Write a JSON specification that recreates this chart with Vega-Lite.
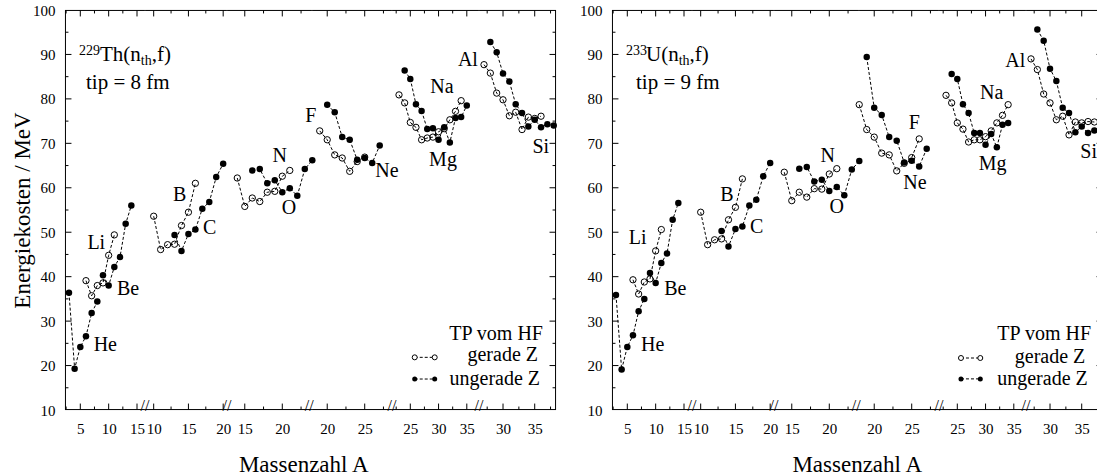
{
"$schema":"https://vega.github.io/schema/vega-lite/v6.json",
"padding":{"left":11,"top":3,"right":0,"bottom":0},
"config":{"view":{"stroke":null},"font":"Liberation Serif",
 "axis":{"labelFont":"Liberation Serif","labelFontSize":15,"labelColor":"black","grid":false,"domain":false,"ticks":false,"tickSize":0,"labelOverlap":false,"labelFlush":false,"labelBound":false,"titleFont":"Liberation Serif","titleFontWeight":"normal","titleColor":"black","titleFontSize":23},
 "point":{"opacity":1},
 "text":{"font":"Liberation Serif","color":"black"}},
"datasets":{
"pts":[
{"p":"L","el":"He","g":"ungerade Z","A":3,"E":36.4},{"p":"L","el":"He","g":"ungerade Z","A":4,"E":19.3},{"p":"L","el":"He","g":"ungerade Z","A":5,"E":24.2},{"p":"L","el":"He","g":"ungerade Z","A":6,"E":26.6},{"p":"L","el":"He","g":"ungerade Z","A":7,"E":31.8},{"p":"L","el":"He","g":"ungerade Z","A":8,"E":34.4},
{"p":"L","el":"Li","g":"gerade Z","A":6,"E":39.1},{"p":"L","el":"Li","g":"gerade Z","A":7,"E":35.7},{"p":"L","el":"Li","g":"gerade Z","A":8,"E":38.0},{"p":"L","el":"Li","g":"gerade Z","A":9,"E":38.6},{"p":"L","el":"Li","g":"gerade Z","A":10,"E":44.8},{"p":"L","el":"Li","g":"gerade Z","A":11,"E":49.4},
{"p":"L","el":"Be","g":"ungerade Z","A":9,"E":40.3},{"p":"L","el":"Be","g":"ungerade Z","A":10,"E":38.0},{"p":"L","el":"Be","g":"ungerade Z","A":11,"E":42.2},{"p":"L","el":"Be","g":"ungerade Z","A":12,"E":44.4},{"p":"L","el":"Be","g":"ungerade Z","A":13,"E":51.9},{"p":"L","el":"Be","g":"ungerade Z","A":14,"E":56.0},
{"p":"L","el":"B","g":"gerade Z","A":10,"E":53.6},{"p":"L","el":"B","g":"gerade Z","A":11,"E":46.1},{"p":"L","el":"B","g":"gerade Z","A":12,"E":47.2},{"p":"L","el":"B","g":"gerade Z","A":13,"E":47.3},{"p":"L","el":"B","g":"gerade Z","A":14,"E":51.5},{"p":"L","el":"B","g":"gerade Z","A":15,"E":54.5},{"p":"L","el":"B","g":"gerade Z","A":16,"E":61.0},
{"p":"L","el":"C","g":"ungerade Z","A":13,"E":49.4},{"p":"L","el":"C","g":"ungerade Z","A":14,"E":45.8},{"p":"L","el":"C","g":"ungerade Z","A":15,"E":49.6},{"p":"L","el":"C","g":"ungerade Z","A":16,"E":50.6},{"p":"L","el":"C","g":"ungerade Z","A":17,"E":55.3},{"p":"L","el":"C","g":"ungerade Z","A":18,"E":56.8},{"p":"L","el":"C","g":"ungerade Z","A":19,"E":62.4},{"p":"L","el":"C","g":"ungerade Z","A":20,"E":65.4},
{"p":"L","el":"N","g":"gerade Z","A":14,"E":62.2},{"p":"L","el":"N","g":"gerade Z","A":15,"E":55.8},{"p":"L","el":"N","g":"gerade Z","A":16,"E":57.7},{"p":"L","el":"N","g":"gerade Z","A":17,"E":56.9},{"p":"L","el":"N","g":"gerade Z","A":18,"E":59.0},{"p":"L","el":"N","g":"gerade Z","A":19,"E":59.2},{"p":"L","el":"N","g":"gerade Z","A":20,"E":62.6},{"p":"L","el":"N","g":"gerade Z","A":21,"E":63.9},
{"p":"L","el":"O","g":"ungerade Z","A":16,"E":63.9},{"p":"L","el":"O","g":"ungerade Z","A":17,"E":64.2},{"p":"L","el":"O","g":"ungerade Z","A":18,"E":61.0},{"p":"L","el":"O","g":"ungerade Z","A":19,"E":61.7},{"p":"L","el":"O","g":"ungerade Z","A":20,"E":59.0},{"p":"L","el":"O","g":"ungerade Z","A":21,"E":59.9},{"p":"L","el":"O","g":"ungerade Z","A":22,"E":58.2},{"p":"L","el":"O","g":"ungerade Z","A":23,"E":64.2},{"p":"L","el":"O","g":"ungerade Z","A":24,"E":66.2},
{"p":"L","el":"F","g":"gerade Z","A":19,"E":72.8},{"p":"L","el":"F","g":"gerade Z","A":20,"E":70.8},{"p":"L","el":"F","g":"gerade Z","A":21,"E":67.4},{"p":"L","el":"F","g":"gerade Z","A":22,"E":66.7},{"p":"L","el":"F","g":"gerade Z","A":23,"E":63.7},{"p":"L","el":"F","g":"gerade Z","A":24,"E":65.9},{"p":"L","el":"F","g":"gerade Z","A":25,"E":66.9},
{"p":"L","el":"Ne","g":"ungerade Z","A":20,"E":78.7},{"p":"L","el":"Ne","g":"ungerade Z","A":21,"E":77.0},{"p":"L","el":"Ne","g":"ungerade Z","A":22,"E":71.4},{"p":"L","el":"Ne","g":"ungerade Z","A":23,"E":70.8},{"p":"L","el":"Ne","g":"ungerade Z","A":24,"E":66.3},{"p":"L","el":"Ne","g":"ungerade Z","A":25,"E":66.7},{"p":"L","el":"Ne","g":"ungerade Z","A":26,"E":65.6},{"p":"L","el":"Ne","g":"ungerade Z","A":27,"E":69.5},
{"p":"L","el":"Na","g":"gerade Z","A":23,"E":80.9},{"p":"L","el":"Na","g":"gerade Z","A":24,"E":79.1},{"p":"L","el":"Na","g":"gerade Z","A":25,"E":74.7},{"p":"L","el":"Na","g":"gerade Z","A":26,"E":73.6},{"p":"L","el":"Na","g":"gerade Z","A":27,"E":70.8},{"p":"L","el":"Na","g":"gerade Z","A":28,"E":71.2},{"p":"L","el":"Na","g":"gerade Z","A":29,"E":71.4},{"p":"L","el":"Na","g":"gerade Z","A":30,"E":72.6},{"p":"L","el":"Na","g":"gerade Z","A":31,"E":73.3},{"p":"L","el":"Na","g":"gerade Z","A":32,"E":75.3},{"p":"L","el":"Na","g":"gerade Z","A":33,"E":77.2},{"p":"L","el":"Na","g":"gerade Z","A":34,"E":79.6},
{"p":"L","el":"Mg","g":"ungerade Z","A":24,"E":86.4},{"p":"L","el":"Mg","g":"ungerade Z","A":25,"E":84.5},{"p":"L","el":"Mg","g":"ungerade Z","A":26,"E":78.8},{"p":"L","el":"Mg","g":"ungerade Z","A":27,"E":77.3},{"p":"L","el":"Mg","g":"ungerade Z","A":28,"E":73.2},{"p":"L","el":"Mg","g":"ungerade Z","A":29,"E":73.4},{"p":"L","el":"Mg","g":"ungerade Z","A":30,"E":70.8},{"p":"L","el":"Mg","g":"ungerade Z","A":31,"E":73.6},{"p":"L","el":"Mg","g":"ungerade Z","A":32,"E":70.2},{"p":"L","el":"Mg","g":"ungerade Z","A":33,"E":75.7},{"p":"L","el":"Mg","g":"ungerade Z","A":34,"E":75.9},{"p":"L","el":"Mg","g":"ungerade Z","A":35,"E":78.5},
{"p":"L","el":"Al","g":"gerade Z","A":27,"E":87.7},{"p":"L","el":"Al","g":"gerade Z","A":28,"E":85.8},{"p":"L","el":"Al","g":"gerade Z","A":29,"E":81.3},{"p":"L","el":"Al","g":"gerade Z","A":30,"E":79.8},{"p":"L","el":"Al","g":"gerade Z","A":31,"E":76.2},{"p":"L","el":"Al","g":"gerade Z","A":32,"E":77.0},{"p":"L","el":"Al","g":"gerade Z","A":33,"E":73.1},{"p":"L","el":"Al","g":"gerade Z","A":34,"E":75.9},{"p":"L","el":"Al","g":"gerade Z","A":35,"E":75.6},{"p":"L","el":"Al","g":"gerade Z","A":36,"E":76.1},
{"p":"L","el":"Si","g":"ungerade Z","A":28,"E":92.8},{"p":"L","el":"Si","g":"ungerade Z","A":29,"E":90.5},{"p":"L","el":"Si","g":"ungerade Z","A":30,"E":85.7},{"p":"L","el":"Si","g":"ungerade Z","A":31,"E":83.9},{"p":"L","el":"Si","g":"ungerade Z","A":32,"E":78.8},{"p":"L","el":"Si","g":"ungerade Z","A":33,"E":76.8},{"p":"L","el":"Si","g":"ungerade Z","A":34,"E":73.8},{"p":"L","el":"Si","g":"ungerade Z","A":35,"E":75.3},{"p":"L","el":"Si","g":"ungerade Z","A":36,"E":73.6},{"p":"L","el":"Si","g":"ungerade Z","A":37,"E":74.3},{"p":"L","el":"Si","g":"ungerade Z","A":38,"E":74.0},
{"p":"R","el":"He","g":"ungerade Z","A":3,"E":35.9},{"p":"R","el":"He","g":"ungerade Z","A":4,"E":19.1},{"p":"R","el":"He","g":"ungerade Z","A":5,"E":24.2},{"p":"R","el":"He","g":"ungerade Z","A":6,"E":26.8},{"p":"R","el":"He","g":"ungerade Z","A":7,"E":32.2},{"p":"R","el":"He","g":"ungerade Z","A":8,"E":35.0},
{"p":"R","el":"Li","g":"gerade Z","A":6,"E":39.3},{"p":"R","el":"Li","g":"gerade Z","A":7,"E":36.1},{"p":"R","el":"Li","g":"gerade Z","A":8,"E":38.8},{"p":"R","el":"Li","g":"gerade Z","A":9,"E":39.5},{"p":"R","el":"Li","g":"gerade Z","A":10,"E":45.8},{"p":"R","el":"Li","g":"gerade Z","A":11,"E":50.6},
{"p":"R","el":"Be","g":"ungerade Z","A":9,"E":40.8},{"p":"R","el":"Be","g":"ungerade Z","A":10,"E":38.6},{"p":"R","el":"Be","g":"ungerade Z","A":11,"E":43.1},{"p":"R","el":"Be","g":"ungerade Z","A":12,"E":45.2},{"p":"R","el":"Be","g":"ungerade Z","A":13,"E":52.8},{"p":"R","el":"Be","g":"ungerade Z","A":14,"E":56.6},
{"p":"R","el":"B","g":"gerade Z","A":10,"E":54.5},{"p":"R","el":"B","g":"gerade Z","A":11,"E":47.2},{"p":"R","el":"B","g":"gerade Z","A":12,"E":48.3},{"p":"R","el":"B","g":"gerade Z","A":13,"E":48.5},{"p":"R","el":"B","g":"gerade Z","A":14,"E":52.8},{"p":"R","el":"B","g":"gerade Z","A":15,"E":55.6},{"p":"R","el":"B","g":"gerade Z","A":16,"E":62.0},
{"p":"R","el":"C","g":"ungerade Z","A":13,"E":50.3},{"p":"R","el":"C","g":"ungerade Z","A":14,"E":46.8},{"p":"R","el":"C","g":"ungerade Z","A":15,"E":50.7},{"p":"R","el":"C","g":"ungerade Z","A":16,"E":51.3},{"p":"R","el":"C","g":"ungerade Z","A":17,"E":56.0},{"p":"R","el":"C","g":"ungerade Z","A":18,"E":57.3},{"p":"R","el":"C","g":"ungerade Z","A":19,"E":62.6},{"p":"R","el":"C","g":"ungerade Z","A":20,"E":65.6},
{"p":"R","el":"N","g":"gerade Z","A":14,"E":63.5},{"p":"R","el":"N","g":"gerade Z","A":15,"E":57.1},{"p":"R","el":"N","g":"gerade Z","A":16,"E":59.0},{"p":"R","el":"N","g":"gerade Z","A":17,"E":57.9},{"p":"R","el":"N","g":"gerade Z","A":18,"E":59.8},{"p":"R","el":"N","g":"gerade Z","A":19,"E":59.7},{"p":"R","el":"N","g":"gerade Z","A":20,"E":63.1},{"p":"R","el":"N","g":"gerade Z","A":21,"E":64.3},
{"p":"R","el":"O","g":"ungerade Z","A":16,"E":64.3},{"p":"R","el":"O","g":"ungerade Z","A":17,"E":64.7},{"p":"R","el":"O","g":"ungerade Z","A":18,"E":61.4},{"p":"R","el":"O","g":"ungerade Z","A":19,"E":61.8},{"p":"R","el":"O","g":"ungerade Z","A":20,"E":59.3},{"p":"R","el":"O","g":"ungerade Z","A":21,"E":60.2},{"p":"R","el":"O","g":"ungerade Z","A":22,"E":58.3},{"p":"R","el":"O","g":"ungerade Z","A":23,"E":64.1},{"p":"R","el":"O","g":"ungerade Z","A":24,"E":66.0},
{"p":"R","el":"F","g":"gerade Z","A":18,"E":78.7},{"p":"R","el":"F","g":"gerade Z","A":19,"E":73.1},{"p":"R","el":"F","g":"gerade Z","A":20,"E":71.4},{"p":"R","el":"F","g":"gerade Z","A":21,"E":67.8},{"p":"R","el":"F","g":"gerade Z","A":22,"E":67.4},{"p":"R","el":"F","g":"gerade Z","A":23,"E":63.8},{"p":"R","el":"F","g":"gerade Z","A":24,"E":65.5},{"p":"R","el":"F","g":"gerade Z","A":25,"E":66.8},{"p":"R","el":"F","g":"gerade Z","A":26,"E":71.0},
{"p":"R","el":"Ne","g":"ungerade Z","A":19,"E":89.4},{"p":"R","el":"Ne","g":"ungerade Z","A":20,"E":78.0},{"p":"R","el":"Ne","g":"ungerade Z","A":21,"E":76.4},{"p":"R","el":"Ne","g":"ungerade Z","A":22,"E":71.4},{"p":"R","el":"Ne","g":"ungerade Z","A":23,"E":70.6},{"p":"R","el":"Ne","g":"ungerade Z","A":24,"E":65.7},{"p":"R","el":"Ne","g":"ungerade Z","A":25,"E":66.1},{"p":"R","el":"Ne","g":"ungerade Z","A":26,"E":64.8},{"p":"R","el":"Ne","g":"ungerade Z","A":27,"E":68.8},
{"p":"R","el":"Na","g":"gerade Z","A":23,"E":80.8},{"p":"R","el":"Na","g":"gerade Z","A":24,"E":79.1},{"p":"R","el":"Na","g":"gerade Z","A":25,"E":74.6},{"p":"R","el":"Na","g":"gerade Z","A":26,"E":73.2},{"p":"R","el":"Na","g":"gerade Z","A":27,"E":70.3},{"p":"R","el":"Na","g":"gerade Z","A":28,"E":70.8},{"p":"R","el":"Na","g":"gerade Z","A":29,"E":70.8},{"p":"R","el":"Na","g":"gerade Z","A":30,"E":71.5},{"p":"R","el":"Na","g":"gerade Z","A":31,"E":72.8},{"p":"R","el":"Na","g":"gerade Z","A":32,"E":74.6},{"p":"R","el":"Na","g":"gerade Z","A":33,"E":76.3},{"p":"R","el":"Na","g":"gerade Z","A":34,"E":78.7},
{"p":"R","el":"Mg","g":"ungerade Z","A":24,"E":85.6},{"p":"R","el":"Mg","g":"ungerade Z","A":25,"E":84.5},{"p":"R","el":"Mg","g":"ungerade Z","A":26,"E":78.8},{"p":"R","el":"Mg","g":"ungerade Z","A":27,"E":76.8},{"p":"R","el":"Mg","g":"ungerade Z","A":28,"E":72.3},{"p":"R","el":"Mg","g":"ungerade Z","A":29,"E":72.3},{"p":"R","el":"Mg","g":"ungerade Z","A":30,"E":69.7},{"p":"R","el":"Mg","g":"ungerade Z","A":31,"E":72.1},{"p":"R","el":"Mg","g":"ungerade Z","A":32,"E":69.1},{"p":"R","el":"Mg","g":"ungerade Z","A":33,"E":74.2},{"p":"R","el":"Mg","g":"ungerade Z","A":34,"E":74.6},
{"p":"R","el":"Al","g":"gerade Z","A":27,"E":89.0},{"p":"R","el":"Al","g":"gerade Z","A":28,"E":86.6},{"p":"R","el":"Al","g":"gerade Z","A":29,"E":81.1},{"p":"R","el":"Al","g":"gerade Z","A":30,"E":79.1},{"p":"R","el":"Al","g":"gerade Z","A":31,"E":75.3},{"p":"R","el":"Al","g":"gerade Z","A":32,"E":76.1},{"p":"R","el":"Al","g":"gerade Z","A":33,"E":71.9},{"p":"R","el":"Al","g":"gerade Z","A":34,"E":74.8},{"p":"R","el":"Al","g":"gerade Z","A":35,"E":74.6},{"p":"R","el":"Al","g":"gerade Z","A":36,"E":74.9},{"p":"R","el":"Al","g":"gerade Z","A":37,"E":74.8},
{"p":"R","el":"Si","g":"ungerade Z","A":28,"E":95.6},{"p":"R","el":"Si","g":"ungerade Z","A":29,"E":93.1},{"p":"R","el":"Si","g":"ungerade Z","A":30,"E":86.8},{"p":"R","el":"Si","g":"ungerade Z","A":31,"E":84.0},{"p":"R","el":"Si","g":"ungerade Z","A":32,"E":78.0},{"p":"R","el":"Si","g":"ungerade Z","A":33,"E":76.8},{"p":"R","el":"Si","g":"ungerade Z","A":34,"E":72.5},{"p":"R","el":"Si","g":"ungerade Z","A":35,"E":73.8},{"p":"R","el":"Si","g":"ungerade Z","A":36,"E":72.3},{"p":"R","el":"Si","g":"ungerade Z","A":37,"E":72.9},{"p":"R","el":"Si","g":"ungerade Z","A":38,"E":72.3}
],
"lbl":[
{"p":"L","t":"He","A":9.41,"E":24.55},{"p":"L","t":"Li","A":7.82,"E":47.6},{"p":"L","t":"Be","A":13.41,"E":37.2},{"p":"L","t":"B","A":13.74,"E":58.4},{"p":"L","t":"C","A":18.06,"E":50.9},{"p":"L","t":"N","A":19.65,"E":67.1},{"p":"L","t":"O","A":20.89,"E":55.4},{"p":"L","t":"F","A":17.8,"E":76.1},{"p":"L","t":"Ne","A":27.97,"E":63.7},{"p":"L","t":"Na","A":30.61,"E":82.6},{"p":"L","t":"Mg","A":30.79,"E":66.3},{"p":"L","t":"Al","A":35.2,"E":88.8},{"p":"L","t":"Si","A":35.95,"E":69.1},
{"p":"R","t":"He","A":9.48,"E":24.55},{"p":"R","t":"Li","A":6.83,"E":48.7},{"p":"R","t":"Be","A":13.47,"E":37.2},{"p":"R","t":"B","A":13.78,"E":58.4},{"p":"R","t":"C","A":18.06,"E":51.1},{"p":"R","t":"N","A":19.79,"E":67.1},{"p":"R","t":"O","A":20.99,"E":55.6},{"p":"R","t":"F","A":25.35,"E":74.6},{"p":"R","t":"Ne","A":25.44,"E":61.1},{"p":"R","t":"Na","A":31.09,"E":81.3},{"p":"R","t":"Mg","A":31.27,"E":65.4},{"p":"R","t":"Al","A":35.27,"E":88.6},{"p":"R","t":"Si","A":36.1,"E":68.05}
],
"lg":[
{"p":"L","k":"o","A":25.78,"E":21.85},{"p":"L","k":"o","A":29.32,"E":21.85},{"p":"L","k":"f","A":25.78,"E":16.97},{"p":"L","k":"f","A":29.32,"E":16.97},
{"p":"R","k":"o","A":25.65,"E":21.7},{"p":"R","k":"o","A":29.07,"E":21.7},{"p":"R","k":"f","A":25.65,"E":17.0},{"p":"R","k":"f","A":29.07,"E":17.0}
],
"fr":[
{"s":1,"k":"T","A":2.31,"E":99.9},{"s":1,"k":"T","A":16.4,"E":99.9},{"s":1,"k":"B","A":2.31,"E":10.1},{"s":1,"k":"B","A":16.4,"E":10.1},{"s":1,"k":"L","A":2.38,"E":10.01},{"s":1,"k":"L","A":2.38,"E":99.99},
{"s":1,"k":"b5","A":5,"E":10.1},{"s":1,"k":"b5","A":5,"E":11.45},{"s":1,"k":"b10","A":10,"E":10.1},{"s":1,"k":"b10","A":10,"E":11.45},{"s":1,"k":"b15","A":15,"E":10.1},{"s":1,"k":"b15","A":15,"E":11.45},
{"s":1,"k":"m2","A":2.5,"E":10.1},{"s":1,"k":"m2","A":2.5,"E":10.78},{"s":1,"k":"m7","A":7.5,"E":10.1},{"s":1,"k":"m7","A":7.5,"E":10.78},{"s":1,"k":"m12","A":12.5,"E":10.1},{"s":1,"k":"m12","A":12.5,"E":10.78},
{"s":1,"k":"t5","A":5,"E":99.9},{"s":1,"k":"t5","A":5,"E":98.55},{"s":1,"k":"t10","A":10,"E":99.9},{"s":1,"k":"t10","A":10,"E":98.55},{"s":1,"k":"t15","A":15,"E":99.9},{"s":1,"k":"t15","A":15,"E":98.55},
{"s":1,"k":"u2","A":2.5,"E":99.9},{"s":1,"k":"u2","A":2.5,"E":99.22},{"s":1,"k":"u7","A":7.5,"E":99.9},{"s":1,"k":"u7","A":7.5,"E":99.22},{"s":1,"k":"u12","A":12.5,"E":99.9},{"s":1,"k":"u12","A":12.5,"E":99.22},
{"s":1,"k":"Y20","A":2.38,"E":20},{"s":1,"k":"Y20","A":3.44,"E":20},{"s":1,"k":"Y30","A":2.38,"E":30},{"s":1,"k":"Y30","A":3.44,"E":30},{"s":1,"k":"Y40","A":2.38,"E":40},{"s":1,"k":"Y40","A":3.44,"E":40},{"s":1,"k":"Y50","A":2.38,"E":50},{"s":1,"k":"Y50","A":3.44,"E":50},{"s":1,"k":"Y60","A":2.38,"E":60},{"s":1,"k":"Y60","A":3.44,"E":60},{"s":1,"k":"Y70","A":2.38,"E":70},{"s":1,"k":"Y70","A":3.44,"E":70},{"s":1,"k":"Y80","A":2.38,"E":80},{"s":1,"k":"Y80","A":3.44,"E":80},{"s":1,"k":"Y90","A":2.38,"E":90},{"s":1,"k":"Y90","A":3.44,"E":90},
{"s":1,"k":"y15","A":2.38,"E":15},{"s":1,"k":"y15","A":2.91,"E":15},{"s":1,"k":"y25","A":2.38,"E":25},{"s":1,"k":"y25","A":2.91,"E":25},{"s":1,"k":"y35","A":2.38,"E":35},{"s":1,"k":"y35","A":2.91,"E":35},{"s":1,"k":"y45","A":2.38,"E":45},{"s":1,"k":"y45","A":2.91,"E":45},{"s":1,"k":"y55","A":2.38,"E":55},{"s":1,"k":"y55","A":2.91,"E":55},{"s":1,"k":"y65","A":2.38,"E":65},{"s":1,"k":"y65","A":2.91,"E":65},{"s":1,"k":"y75","A":2.38,"E":75},{"s":1,"k":"y75","A":2.91,"E":75},{"s":1,"k":"y85","A":2.38,"E":85},{"s":1,"k":"y85","A":2.91,"E":85},{"s":1,"k":"y95","A":2.38,"E":95},{"s":1,"k":"y95","A":2.91,"E":95},
{"s":2,"k":"T","A":8.76,"E":99.9},{"s":2,"k":"T","A":20.54,"E":99.9},{"s":2,"k":"B","A":8.76,"E":10.1},{"s":2,"k":"B","A":20.54,"E":10.1},
{"s":2,"k":"b10","A":10,"E":10.1},{"s":2,"k":"b10","A":10,"E":11.45},{"s":2,"k":"b15","A":15,"E":10.1},{"s":2,"k":"b15","A":15,"E":11.45},{"s":2,"k":"b20","A":20,"E":10.1},{"s":2,"k":"b20","A":20,"E":11.45},
{"s":2,"k":"m12","A":12.5,"E":10.1},{"s":2,"k":"m12","A":12.5,"E":10.78},{"s":2,"k":"m17","A":17.5,"E":10.1},{"s":2,"k":"m17","A":17.5,"E":10.78},
{"s":2,"k":"t10","A":10,"E":99.9},{"s":2,"k":"t10","A":10,"E":98.55},{"s":2,"k":"t15","A":15,"E":99.9},{"s":2,"k":"t15","A":15,"E":98.55},{"s":2,"k":"t20","A":20,"E":99.9},{"s":2,"k":"t20","A":20,"E":98.55},
{"s":2,"k":"u12","A":12.5,"E":99.9},{"s":2,"k":"u12","A":12.5,"E":99.22},{"s":2,"k":"u17","A":17.5,"E":99.9},{"s":2,"k":"u17","A":17.5,"E":99.22},
{"s":3,"k":"T","A":12.64,"E":99.9},{"s":3,"k":"T","A":23.95,"E":99.9},{"s":3,"k":"B","A":12.64,"E":10.1},{"s":3,"k":"B","A":23.95,"E":10.1},
{"s":3,"k":"b15","A":15,"E":10.1},{"s":3,"k":"b15","A":15,"E":11.45},{"s":3,"k":"b20","A":20,"E":10.1},{"s":3,"k":"b20","A":20,"E":11.45},
{"s":3,"k":"m17","A":17.5,"E":10.1},{"s":3,"k":"m17","A":17.5,"E":10.78},{"s":3,"k":"m22","A":22.5,"E":10.1},{"s":3,"k":"m22","A":22.5,"E":10.78},
{"s":3,"k":"t15","A":15,"E":99.9},{"s":3,"k":"t15","A":15,"E":98.55},{"s":3,"k":"t20","A":20,"E":99.9},{"s":3,"k":"t20","A":20,"E":98.55},
{"s":3,"k":"u17","A":17.5,"E":99.9},{"s":3,"k":"u17","A":17.5,"E":99.22},{"s":3,"k":"u22","A":22.5,"E":99.9},{"s":3,"k":"u22","A":22.5,"E":99.22},
{"s":4,"k":"T","A":17.98,"E":99.9},{"s":4,"k":"T","A":28.63,"E":99.9},{"s":4,"k":"B","A":17.98,"E":10.1},{"s":4,"k":"B","A":28.63,"E":10.1},
{"s":4,"k":"b20","A":20,"E":10.1},{"s":4,"k":"b20","A":20,"E":11.45},{"s":4,"k":"b25","A":25,"E":10.1},{"s":4,"k":"b25","A":25,"E":11.45},
{"s":4,"k":"m22","A":22.5,"E":10.1},{"s":4,"k":"m22","A":22.5,"E":10.78},{"s":4,"k":"m27","A":27.5,"E":10.1},{"s":4,"k":"m27","A":27.5,"E":10.78},
{"s":4,"k":"t20","A":20,"E":99.9},{"s":4,"k":"t20","A":20,"E":98.55},{"s":4,"k":"t25","A":25,"E":99.9},{"s":4,"k":"t25","A":25,"E":98.55},
{"s":4,"k":"u22","A":22.5,"E":99.9},{"s":4,"k":"u22","A":22.5,"E":99.22},{"s":4,"k":"u27","A":27.5,"E":99.9},{"s":4,"k":"u27","A":27.5,"E":99.22},
{"s":5,"k":"T","A":21.77,"E":99.9},{"s":5,"k":"T","A":37.15,"E":99.9},{"s":5,"k":"B","A":21.77,"E":10.1},{"s":5,"k":"B","A":37.15,"E":10.1},
{"s":5,"k":"b25","A":25,"E":10.1},{"s":5,"k":"b25","A":25,"E":11.45},{"s":5,"k":"b30","A":30,"E":10.1},{"s":5,"k":"b30","A":30,"E":11.45},{"s":5,"k":"b35","A":35,"E":10.1},{"s":5,"k":"b35","A":35,"E":11.45},
{"s":5,"k":"m22","A":22.5,"E":10.1},{"s":5,"k":"m22","A":22.5,"E":10.78},{"s":5,"k":"m27","A":27.5,"E":10.1},{"s":5,"k":"m27","A":27.5,"E":10.78},{"s":5,"k":"m32","A":32.5,"E":10.1},{"s":5,"k":"m32","A":32.5,"E":10.78},
{"s":5,"k":"t25","A":25,"E":99.9},{"s":5,"k":"t25","A":25,"E":98.55},{"s":5,"k":"t30","A":30,"E":99.9},{"s":5,"k":"t30","A":30,"E":98.55},{"s":5,"k":"t35","A":35,"E":99.9},{"s":5,"k":"t35","A":35,"E":98.55},
{"s":5,"k":"u22","A":22.5,"E":99.9},{"s":5,"k":"u22","A":22.5,"E":99.22},{"s":5,"k":"u27","A":27.5,"E":99.9},{"s":5,"k":"u27","A":27.5,"E":99.22},{"s":5,"k":"u32","A":32.5,"E":99.9},{"s":5,"k":"u32","A":32.5,"E":99.22},
{"s":6,"k":"T","A":26.22,"E":99.9},{"s":6,"k":"T","A":38.35,"E":99.9},{"s":6,"k":"B","A":26.22,"E":10.1},{"s":6,"k":"B","A":38.35,"E":10.1},{"s":6,"k":"R","A":38.29,"E":10.01},{"s":6,"k":"R","A":38.29,"E":99.99},
{"s":6,"k":"b30","A":30,"E":10.1},{"s":6,"k":"b30","A":30,"E":11.45},{"s":6,"k":"b35","A":35,"E":10.1},{"s":6,"k":"b35","A":35,"E":11.45},
{"s":6,"k":"m27","A":27.5,"E":10.1},{"s":6,"k":"m27","A":27.5,"E":10.78},{"s":6,"k":"m32","A":32.5,"E":10.1},{"s":6,"k":"m32","A":32.5,"E":10.78},{"s":6,"k":"m37","A":37.5,"E":10.1},{"s":6,"k":"m37","A":37.5,"E":10.78},
{"s":6,"k":"t30","A":30,"E":99.9},{"s":6,"k":"t30","A":30,"E":98.55},{"s":6,"k":"t35","A":35,"E":99.9},{"s":6,"k":"t35","A":35,"E":98.55},
{"s":6,"k":"u27","A":27.5,"E":99.9},{"s":6,"k":"u27","A":27.5,"E":99.22},{"s":6,"k":"u32","A":32.5,"E":99.9},{"s":6,"k":"u32","A":32.5,"E":99.22},{"s":6,"k":"u37","A":37.5,"E":99.9},{"s":6,"k":"u37","A":37.5,"E":99.22},
{"s":6,"k":"Y20","A":38.29,"E":20},{"s":6,"k":"Y20","A":37.34,"E":20},{"s":6,"k":"Y30","A":38.29,"E":30},{"s":6,"k":"Y30","A":37.34,"E":30},{"s":6,"k":"Y40","A":38.29,"E":40},{"s":6,"k":"Y40","A":37.34,"E":40},{"s":6,"k":"Y50","A":38.29,"E":50},{"s":6,"k":"Y50","A":37.34,"E":50},{"s":6,"k":"Y60","A":38.29,"E":60},{"s":6,"k":"Y60","A":37.34,"E":60},{"s":6,"k":"Y70","A":38.29,"E":70},{"s":6,"k":"Y70","A":37.34,"E":70},{"s":6,"k":"Y80","A":38.29,"E":80},{"s":6,"k":"Y80","A":37.34,"E":80},{"s":6,"k":"Y90","A":38.29,"E":90},{"s":6,"k":"Y90","A":37.34,"E":90},
{"s":6,"k":"y15","A":38.29,"E":15},{"s":6,"k":"y15","A":37.82,"E":15},{"s":6,"k":"y25","A":38.29,"E":25},{"s":6,"k":"y25","A":37.82,"E":25},{"s":6,"k":"y35","A":38.29,"E":35},{"s":6,"k":"y35","A":37.82,"E":35},{"s":6,"k":"y45","A":38.29,"E":45},{"s":6,"k":"y45","A":37.82,"E":45},{"s":6,"k":"y55","A":38.29,"E":55},{"s":6,"k":"y55","A":37.82,"E":55},{"s":6,"k":"y65","A":38.29,"E":65},{"s":6,"k":"y65","A":37.82,"E":65},{"s":6,"k":"y75","A":38.29,"E":75},{"s":6,"k":"y75","A":37.82,"E":75},{"s":6,"k":"y85","A":38.29,"E":85},{"s":6,"k":"y85","A":37.82,"E":85},{"s":6,"k":"y95","A":38.29,"E":95},{"s":6,"k":"y95","A":37.82,"E":95}
]
},
"spacing":21,
"hconcat":[
{"spacing":0,"bounds":"flush",
 "title":{"text":"Massenzahl A","orient":"bottom","anchor":"middle","font":"Liberation Serif","fontSize":23,"fontWeight":"normal","color":"black","offset":18,"dx":19},
 "hconcat":[
 {"width":80,"height":400,"resolve":{"axis":{"x":"independent","y":"independent"}},
  "layer":[
   {"data":{"name":"pts"},"transform":[{"filter":{"and":[{"field":"p","equal":"L"},{"field":"el","oneOf":["He","Li","Be"]}]}}],"mark":{"type":"line","stroke":"black","strokeWidth":1,"strokeDash":[3,2]},
    "encoding":{"x":{"field":"A","type":"quantitative","scale":{"domain":[2.3,16.41],"nice":false,"zero":false},"axis":{"orient":"bottom","values":[5,10,15],"labelPadding":11,"title":null}},
     "y":{"field":"E","type":"quantitative","scale":{"domain":[10,100],"nice":false,"zero":false},"axis":{"orient":"left","values":[10,20,30,40,50,60,70,80,90,100],"labelPadding":10,"title":"Energiekosten / MeV","titlePadding":-2}},"detail":{"field":"el"}}},
   {"data":{"name":"fr"},"transform":[{"filter":{"field":"s","equal":1}}],"mark":{"type":"line","color":"black","strokeWidth":1},
    "encoding":{"x":{"field":"A","type":"quantitative","axis":null},"y":{"field":"E","type":"quantitative","axis":null},"detail":{"field":"k"}}},
   {"data":{"name":"pts"},"transform":[{"filter":{"and":[{"field":"p","equal":"L"},{"field":"el","oneOf":["He","Li","Be"]},{"field":"g","equal":"gerade Z"}]}}],"mark":{"type":"point","shape":"circle","filled":false,"color":"black","strokeWidth":1,"size":40},
    "encoding":{"x":{"field":"A","type":"quantitative","axis":null},"y":{"field":"E","type":"quantitative","axis":null}}},
   {"data":{"name":"pts"},"transform":[{"filter":{"and":[{"field":"p","equal":"L"},{"field":"el","oneOf":["He","Li","Be"]},{"field":"g","equal":"ungerade Z"}]}}],"mark":{"type":"point","shape":"circle","filled":true,"color":"black","size":42},
    "encoding":{"x":{"field":"A","type":"quantitative","axis":null},"y":{"field":"E","type":"quantitative","axis":null}}},
   {"data":{"name":"lbl"},"transform":[{"filter":{"and":[{"field":"p","equal":"L"},{"field":"t","oneOf":["He","Li","Be"]}]}}],"mark":{"type":"text","fontSize":20,"align":"center","baseline":"middle"},
    "encoding":{"x":{"field":"A","type":"quantitative","axis":null},"y":{"field":"E","type":"quantitative","axis":null},"text":{"field":"t"}}},
   {"data":{"values":[{}]},"mark":{"type":"text","text":"//","fontSize":16,"align":"center","baseline":"middle","dy":-4},"encoding":{"x":{"datum":16.41,"axis":null},"y":{"datum":10,"axis":null}}},
   {"data":{"values":[{}]},"mark":{"type":"text","text":"229","fontSize":14,"align":"left","baseline":"alphabetic"},"encoding":{"x":{"datum":4.77,"axis":null},"y":{"datum":89.8,"axis":null}}},
   {"data":{"values":[{}]},"mark":{"type":"text","text":"Th(n","fontSize":21,"align":"left","baseline":"alphabetic"},"encoding":{"x":{"datum":8.47,"axis":null},"y":{"datum":88.45,"axis":null}}},
   {"data":{"values":[{}]},"mark":{"type":"text","text":"th","fontSize":14,"align":"left","baseline":"alphabetic"},"encoding":{"x":{"datum":15.67,"axis":null},"y":{"datum":87.6,"axis":null}}},
   {"data":{"values":[{}]},"mark":{"type":"text","text":",f)","fontSize":21,"align":"left","baseline":"alphabetic"},"encoding":{"x":{"datum":17.59,"axis":null},"y":{"datum":88.45,"axis":null}}},
   {"data":{"values":[{}]},"mark":{"type":"text","text":"tip = 8 fm","fontSize":21,"align":"left","baseline":"alphabetic"},"encoding":{"x":{"datum":6.0,"axis":null},"y":{"datum":82.3,"axis":null}}}
  ]},
 {"width":82,"height":400,"resolve":{"axis":{"x":"independent","y":"independent"}},
  "layer":[
   {"data":{"name":"pts"},"transform":[{"filter":{"and":[{"field":"p","equal":"L"},{"field":"el","oneOf":["B","C"]}]}}],"mark":{"type":"line","stroke":"black","strokeWidth":1,"strokeDash":[3,2]},
    "encoding":{"x":{"field":"A","type":"quantitative","scale":{"domain":[8.75,20.55],"nice":false,"zero":false},"axis":{"orient":"bottom","values":[10,15,20],"labelPadding":11,"title":null}},
     "y":{"field":"E","type":"quantitative","scale":{"domain":[10,100],"nice":false,"zero":false},"axis":null},"detail":{"field":"el"}}},
   {"data":{"name":"fr"},"transform":[{"filter":{"field":"s","equal":2}}],"mark":{"type":"line","color":"black","strokeWidth":1},
    "encoding":{"x":{"field":"A","type":"quantitative","axis":null},"y":{"field":"E","type":"quantitative","axis":null},"detail":{"field":"k"}}},
   {"data":{"name":"pts"},"transform":[{"filter":{"and":[{"field":"p","equal":"L"},{"field":"el","oneOf":["B","C"]},{"field":"g","equal":"gerade Z"}]}}],"mark":{"type":"point","shape":"circle","filled":false,"color":"black","strokeWidth":1,"size":40},
    "encoding":{"x":{"field":"A","type":"quantitative","axis":null},"y":{"field":"E","type":"quantitative","axis":null}}},
   {"data":{"name":"pts"},"transform":[{"filter":{"and":[{"field":"p","equal":"L"},{"field":"el","oneOf":["B","C"]},{"field":"g","equal":"ungerade Z"}]}}],"mark":{"type":"point","shape":"circle","filled":true,"color":"black","size":42},
    "encoding":{"x":{"field":"A","type":"quantitative","axis":null},"y":{"field":"E","type":"quantitative","axis":null}}},
   {"data":{"name":"lbl"},"transform":[{"filter":{"and":[{"field":"p","equal":"L"},{"field":"t","oneOf":["B","C"]}]}}],"mark":{"type":"text","fontSize":20,"align":"center","baseline":"middle"},
    "encoding":{"x":{"field":"A","type":"quantitative","axis":null},"y":{"field":"E","type":"quantitative","axis":null},"text":{"field":"t"}}},
   {"data":{"values":[{}]},"mark":{"type":"text","text":"//","fontSize":16,"align":"center","baseline":"middle","dy":-4},"encoding":{"x":{"datum":20.55,"axis":null},"y":{"datum":10,"axis":null}}}
  ]},
 {"width":85,"height":400,"resolve":{"axis":{"x":"independent","y":"independent"}},
  "layer":[
   {"data":{"name":"pts"},"transform":[{"filter":{"and":[{"field":"p","equal":"L"},{"field":"el","oneOf":["N","O"]}]}}],"mark":{"type":"line","stroke":"black","strokeWidth":1,"strokeDash":[3,2]},
    "encoding":{"x":{"field":"A","type":"quantitative","scale":{"domain":[12.63,23.96],"nice":false,"zero":false},"axis":{"orient":"bottom","values":[15,20],"labelPadding":11,"title":null}},
     "y":{"field":"E","type":"quantitative","scale":{"domain":[10,100],"nice":false,"zero":false},"axis":null},"detail":{"field":"el"}}},
   {"data":{"name":"fr"},"transform":[{"filter":{"field":"s","equal":3}}],"mark":{"type":"line","color":"black","strokeWidth":1},
    "encoding":{"x":{"field":"A","type":"quantitative","axis":null},"y":{"field":"E","type":"quantitative","axis":null},"detail":{"field":"k"}}},
   {"data":{"name":"pts"},"transform":[{"filter":{"and":[{"field":"p","equal":"L"},{"field":"el","oneOf":["N","O"]},{"field":"g","equal":"gerade Z"}]}}],"mark":{"type":"point","shape":"circle","filled":false,"color":"black","strokeWidth":1,"size":40},
    "encoding":{"x":{"field":"A","type":"quantitative","axis":null},"y":{"field":"E","type":"quantitative","axis":null}}},
   {"data":{"name":"pts"},"transform":[{"filter":{"and":[{"field":"p","equal":"L"},{"field":"el","oneOf":["N","O"]},{"field":"g","equal":"ungerade Z"}]}}],"mark":{"type":"point","shape":"circle","filled":true,"color":"black","size":42},
    "encoding":{"x":{"field":"A","type":"quantitative","axis":null},"y":{"field":"E","type":"quantitative","axis":null}}},
   {"data":{"name":"lbl"},"transform":[{"filter":{"and":[{"field":"p","equal":"L"},{"field":"t","oneOf":["N","O"]}]}}],"mark":{"type":"text","fontSize":20,"align":"center","baseline":"middle"},
    "encoding":{"x":{"field":"A","type":"quantitative","axis":null},"y":{"field":"E","type":"quantitative","axis":null},"text":{"field":"t"}}},
   {"data":{"values":[{}]},"mark":{"type":"text","text":"//","fontSize":16,"align":"center","baseline":"middle","dy":-4},"encoding":{"x":{"datum":23.6,"axis":null},"y":{"datum":10,"axis":null}}}
  ]},
 {"width":80,"height":400,"resolve":{"axis":{"x":"independent","y":"independent"}},
  "layer":[
   {"data":{"name":"pts"},"transform":[{"filter":{"and":[{"field":"p","equal":"L"},{"field":"el","oneOf":["F","Ne"]}]}}],"mark":{"type":"line","stroke":"black","strokeWidth":1,"strokeDash":[3,2]},
    "encoding":{"x":{"field":"A","type":"quantitative","scale":{"domain":[17.97,28.64],"nice":false,"zero":false},"axis":{"orient":"bottom","values":[20,25],"labelPadding":11,"title":null}},
     "y":{"field":"E","type":"quantitative","scale":{"domain":[10,100],"nice":false,"zero":false},"axis":null},"detail":{"field":"el"}}},
   {"data":{"name":"fr"},"transform":[{"filter":{"field":"s","equal":4}}],"mark":{"type":"line","color":"black","strokeWidth":1},
    "encoding":{"x":{"field":"A","type":"quantitative","axis":null},"y":{"field":"E","type":"quantitative","axis":null},"detail":{"field":"k"}}},
   {"data":{"name":"pts"},"transform":[{"filter":{"and":[{"field":"p","equal":"L"},{"field":"el","oneOf":["F","Ne"]},{"field":"g","equal":"gerade Z"}]}}],"mark":{"type":"point","shape":"circle","filled":false,"color":"black","strokeWidth":1,"size":40},
    "encoding":{"x":{"field":"A","type":"quantitative","axis":null},"y":{"field":"E","type":"quantitative","axis":null}}},
   {"data":{"name":"pts"},"transform":[{"filter":{"and":[{"field":"p","equal":"L"},{"field":"el","oneOf":["F","Ne"]},{"field":"g","equal":"ungerade Z"}]}}],"mark":{"type":"point","shape":"circle","filled":true,"color":"black","size":42},
    "encoding":{"x":{"field":"A","type":"quantitative","axis":null},"y":{"field":"E","type":"quantitative","axis":null}}},
   {"data":{"name":"lbl"},"transform":[{"filter":{"and":[{"field":"p","equal":"L"},{"field":"t","oneOf":["F","Ne"]}]}}],"mark":{"type":"text","fontSize":20,"align":"center","baseline":"middle"},
    "encoding":{"x":{"field":"A","type":"quantitative","axis":null},"y":{"field":"E","type":"quantitative","axis":null},"text":{"field":"t"}}},
   {"data":{"values":[{}]},"mark":{"type":"text","text":"//","fontSize":16,"align":"center","baseline":"middle","dy":-4},"encoding":{"x":{"datum":28.64,"axis":null},"y":{"datum":10,"axis":null}}}
  ]},
 {"width":87,"height":400,"resolve":{"axis":{"x":"independent","y":"independent"}},
  "layer":[
   {"data":{"name":"pts"},"transform":[{"filter":{"and":[{"field":"p","equal":"L"},{"field":"el","oneOf":["Na","Mg"]}]}}],"mark":{"type":"line","stroke":"black","strokeWidth":1,"strokeDash":[3,2]},
    "encoding":{"x":{"field":"A","type":"quantitative","scale":{"domain":[21.76,37.16],"nice":false,"zero":false},"axis":{"orient":"bottom","values":[25,30,35],"labelPadding":11,"title":null}},
     "y":{"field":"E","type":"quantitative","scale":{"domain":[10,100],"nice":false,"zero":false},"axis":null},"detail":{"field":"el"}}},
   {"data":{"name":"fr"},"transform":[{"filter":{"field":"s","equal":5}}],"mark":{"type":"line","color":"black","strokeWidth":1},
    "encoding":{"x":{"field":"A","type":"quantitative","axis":null},"y":{"field":"E","type":"quantitative","axis":null},"detail":{"field":"k"}}},
   {"data":{"name":"pts"},"transform":[{"filter":{"and":[{"field":"p","equal":"L"},{"field":"el","oneOf":["Na","Mg"]},{"field":"g","equal":"gerade Z"}]}}],"mark":{"type":"point","shape":"circle","filled":false,"color":"black","strokeWidth":1,"size":40},
    "encoding":{"x":{"field":"A","type":"quantitative","axis":null},"y":{"field":"E","type":"quantitative","axis":null}}},
   {"data":{"name":"pts"},"transform":[{"filter":{"and":[{"field":"p","equal":"L"},{"field":"el","oneOf":["Na","Mg"]},{"field":"g","equal":"ungerade Z"}]}}],"mark":{"type":"point","shape":"circle","filled":true,"color":"black","size":42},
    "encoding":{"x":{"field":"A","type":"quantitative","axis":null},"y":{"field":"E","type":"quantitative","axis":null}}},
   {"data":{"name":"lbl"},"transform":[{"filter":{"and":[{"field":"p","equal":"L"},{"field":"t","oneOf":["Na","Mg","Al"]}]}}],"mark":{"type":"text","fontSize":20,"align":"center","baseline":"middle"},
    "encoding":{"x":{"field":"A","type":"quantitative","axis":null},"y":{"field":"E","type":"quantitative","axis":null},"text":{"field":"t"}}},
   {"data":{"values":[{}]},"mark":{"type":"text","text":"//","fontSize":16,"align":"center","baseline":"middle","dy":-4},"encoding":{"x":{"datum":37.16,"axis":null},"y":{"datum":10,"axis":null}}},
   {"data":{"name":"lg"},"transform":[{"filter":{"field":"p","equal":"L"}}],"mark":{"type":"line","color":"black","strokeWidth":1,"strokeDash":[3,2]},
    "encoding":{"x":{"field":"A","type":"quantitative","axis":null},"y":{"field":"E","type":"quantitative","axis":null},"detail":{"field":"k"}}},
   {"data":{"name":"lg"},"transform":[{"filter":{"and":[{"field":"p","equal":"L"},{"field":"k","equal":"o"}]}}],"mark":{"type":"point","shape":"circle","filled":true,"fill":"white","stroke":"black","strokeWidth":1,"size":25},
    "encoding":{"x":{"field":"A","type":"quantitative","axis":null},"y":{"field":"E","type":"quantitative","axis":null}}},
   {"data":{"name":"lg"},"transform":[{"filter":{"and":[{"field":"p","equal":"L"},{"field":"k","equal":"f"}]}}],"mark":{"type":"point","shape":"circle","filled":true,"color":"black","size":25},
    "encoding":{"x":{"field":"A","type":"quantitative","axis":null},"y":{"field":"E","type":"quantitative","axis":null}}}
  ]},
 {"width":77,"height":400,"resolve":{"axis":{"x":"independent","y":"independent"}},
  "layer":[
   {"data":{"name":"pts"},"transform":[{"filter":{"and":[{"field":"p","equal":"L"},{"field":"el","oneOf":["Al","Si"]}]}}],"mark":{"type":"line","stroke":"black","strokeWidth":1,"strokeDash":[3,2]},
    "encoding":{"x":{"field":"A","type":"quantitative","scale":{"domain":[26.21,38.36],"nice":false,"zero":false},"axis":{"orient":"bottom","values":[30,35],"labelPadding":11,"title":null}},
     "y":{"field":"E","type":"quantitative","scale":{"domain":[10,100],"nice":false,"zero":false},"axis":null},"detail":{"field":"el"}}},
   {"data":{"name":"fr"},"transform":[{"filter":{"field":"s","equal":6}}],"mark":{"type":"line","color":"black","strokeWidth":1},
    "encoding":{"x":{"field":"A","type":"quantitative","axis":null},"y":{"field":"E","type":"quantitative","axis":null},"detail":{"field":"k"}}},
   {"data":{"name":"pts"},"transform":[{"filter":{"and":[{"field":"p","equal":"L"},{"field":"el","oneOf":["Al","Si"]},{"field":"g","equal":"gerade Z"}]}}],"mark":{"type":"point","shape":"circle","filled":false,"color":"black","strokeWidth":1,"size":40},
    "encoding":{"x":{"field":"A","type":"quantitative","axis":null},"y":{"field":"E","type":"quantitative","axis":null}}},
   {"data":{"name":"pts"},"transform":[{"filter":{"and":[{"field":"p","equal":"L"},{"field":"el","oneOf":["Al","Si"]},{"field":"g","equal":"ungerade Z"}]}}],"mark":{"type":"point","shape":"circle","filled":true,"color":"black","size":42},
    "encoding":{"x":{"field":"A","type":"quantitative","axis":null},"y":{"field":"E","type":"quantitative","axis":null}}},
   {"data":{"name":"lbl"},"transform":[{"filter":{"and":[{"field":"p","equal":"L"},{"field":"t","oneOf":["Si"]}]}}],"mark":{"type":"text","fontSize":20,"align":"center","baseline":"middle"},
    "encoding":{"x":{"field":"A","type":"quantitative","axis":null},"y":{"field":"E","type":"quantitative","axis":null},"text":{"field":"t"}}},
   {"data":{"values":[{}]},"mark":{"type":"text","text":"TP vom HF","fontSize":20,"align":"right","baseline":"middle"},"encoding":{"x":{"datum":36.31,"axis":null},"y":{"datum":27.1,"axis":null}}},
   {"data":{"values":[{}]},"mark":{"type":"text","text":"gerade Z","fontSize":20,"align":"right","baseline":"middle"},"encoding":{"x":{"datum":35.52,"axis":null},"y":{"datum":22.4,"axis":null}}},
   {"data":{"values":[{}]},"mark":{"type":"text","text":"ungerade Z","fontSize":20,"align":"right","baseline":"middle"},"encoding":{"x":{"datum":35.84,"axis":null},"y":{"datum":17.0,"axis":null}}}
  ]}
 ]},
{"spacing":0,"bounds":"flush",
 "title":{"text":"Massenzahl A","orient":"bottom","anchor":"middle","font":"Liberation Serif","fontSize":23,"fontWeight":"normal","color":"black","offset":18,"dx":15},
 "hconcat":[
 {"width":80,"height":400,"resolve":{"axis":{"x":"independent","y":"independent"}},
  "layer":[
   {"data":{"name":"pts"},"transform":[{"filter":{"and":[{"field":"p","equal":"R"},{"field":"el","oneOf":["He","Li","Be"]}]}}],"mark":{"type":"line","stroke":"black","strokeWidth":1,"strokeDash":[3,2]},
    "encoding":{"x":{"field":"A","type":"quantitative","scale":{"domain":[2.3,16.41],"nice":false,"zero":false},"axis":{"orient":"bottom","values":[5,10,15],"labelPadding":11,"title":null}},
     "y":{"field":"E","type":"quantitative","scale":{"domain":[10,100],"nice":false,"zero":false},"axis":{"orient":"left","values":[10,20,30,40,50,60,70,80,90,100],"labelPadding":10,"title":null}},"detail":{"field":"el"}}},
   {"data":{"name":"fr"},"transform":[{"filter":{"field":"s","equal":1}}],"mark":{"type":"line","color":"black","strokeWidth":1},
    "encoding":{"x":{"field":"A","type":"quantitative","axis":null},"y":{"field":"E","type":"quantitative","axis":null},"detail":{"field":"k"}}},
   {"data":{"name":"pts"},"transform":[{"filter":{"and":[{"field":"p","equal":"R"},{"field":"el","oneOf":["He","Li","Be"]},{"field":"g","equal":"gerade Z"}]}}],"mark":{"type":"point","shape":"circle","filled":false,"color":"black","strokeWidth":1,"size":40},
    "encoding":{"x":{"field":"A","type":"quantitative","axis":null},"y":{"field":"E","type":"quantitative","axis":null}}},
   {"data":{"name":"pts"},"transform":[{"filter":{"and":[{"field":"p","equal":"R"},{"field":"el","oneOf":["He","Li","Be"]},{"field":"g","equal":"ungerade Z"}]}}],"mark":{"type":"point","shape":"circle","filled":true,"color":"black","size":42},
    "encoding":{"x":{"field":"A","type":"quantitative","axis":null},"y":{"field":"E","type":"quantitative","axis":null}}},
   {"data":{"name":"lbl"},"transform":[{"filter":{"and":[{"field":"p","equal":"R"},{"field":"t","oneOf":["He","Li","Be"]}]}}],"mark":{"type":"text","fontSize":20,"align":"center","baseline":"middle"},
    "encoding":{"x":{"field":"A","type":"quantitative","axis":null},"y":{"field":"E","type":"quantitative","axis":null},"text":{"field":"t"}}},
   {"data":{"values":[{}]},"mark":{"type":"text","text":"//","fontSize":16,"align":"center","baseline":"middle","dy":-4},"encoding":{"x":{"datum":16.41,"axis":null},"y":{"datum":10,"axis":null}}},
   {"data":{"values":[{}]},"mark":{"type":"text","text":"233","fontSize":14,"align":"left","baseline":"alphabetic"},"encoding":{"x":{"datum":4.77,"axis":null},"y":{"datum":89.8,"axis":null}}},
   {"data":{"values":[{}]},"mark":{"type":"text","text":"U(n","fontSize":21,"align":"left","baseline":"alphabetic"},"encoding":{"x":{"datum":8.3,"axis":null},"y":{"datum":88.45,"axis":null}}},
   {"data":{"values":[{}]},"mark":{"type":"text","text":"th","fontSize":14,"align":"left","baseline":"alphabetic"},"encoding":{"x":{"datum":14.07,"axis":null},"y":{"datum":87.6,"axis":null}}},
   {"data":{"values":[{}]},"mark":{"type":"text","text":",f)","fontSize":21,"align":"left","baseline":"alphabetic"},"encoding":{"x":{"datum":15.99,"axis":null},"y":{"datum":88.45,"axis":null}}},
   {"data":{"values":[{}]},"mark":{"type":"text","text":"tip = 9 fm","fontSize":21,"align":"left","baseline":"alphabetic"},"encoding":{"x":{"datum":6.53,"axis":null},"y":{"datum":82.3,"axis":null}}}
  ]},
 {"width":82,"height":400,"resolve":{"axis":{"x":"independent","y":"independent"}},
  "layer":[
   {"data":{"name":"pts"},"transform":[{"filter":{"and":[{"field":"p","equal":"R"},{"field":"el","oneOf":["B","C"]}]}}],"mark":{"type":"line","stroke":"black","strokeWidth":1,"strokeDash":[3,2]},
    "encoding":{"x":{"field":"A","type":"quantitative","scale":{"domain":[8.75,20.55],"nice":false,"zero":false},"axis":{"orient":"bottom","values":[10,15,20],"labelPadding":11,"title":null}},
     "y":{"field":"E","type":"quantitative","scale":{"domain":[10,100],"nice":false,"zero":false},"axis":null},"detail":{"field":"el"}}},
   {"data":{"name":"fr"},"transform":[{"filter":{"field":"s","equal":2}}],"mark":{"type":"line","color":"black","strokeWidth":1},
    "encoding":{"x":{"field":"A","type":"quantitative","axis":null},"y":{"field":"E","type":"quantitative","axis":null},"detail":{"field":"k"}}},
   {"data":{"name":"pts"},"transform":[{"filter":{"and":[{"field":"p","equal":"R"},{"field":"el","oneOf":["B","C"]},{"field":"g","equal":"gerade Z"}]}}],"mark":{"type":"point","shape":"circle","filled":false,"color":"black","strokeWidth":1,"size":40},
    "encoding":{"x":{"field":"A","type":"quantitative","axis":null},"y":{"field":"E","type":"quantitative","axis":null}}},
   {"data":{"name":"pts"},"transform":[{"filter":{"and":[{"field":"p","equal":"R"},{"field":"el","oneOf":["B","C"]},{"field":"g","equal":"ungerade Z"}]}}],"mark":{"type":"point","shape":"circle","filled":true,"color":"black","size":42},
    "encoding":{"x":{"field":"A","type":"quantitative","axis":null},"y":{"field":"E","type":"quantitative","axis":null}}},
   {"data":{"name":"lbl"},"transform":[{"filter":{"and":[{"field":"p","equal":"R"},{"field":"t","oneOf":["B","C"]}]}}],"mark":{"type":"text","fontSize":20,"align":"center","baseline":"middle"},
    "encoding":{"x":{"field":"A","type":"quantitative","axis":null},"y":{"field":"E","type":"quantitative","axis":null},"text":{"field":"t"}}},
   {"data":{"values":[{}]},"mark":{"type":"text","text":"//","fontSize":16,"align":"center","baseline":"middle","dy":-4},"encoding":{"x":{"datum":20.55,"axis":null},"y":{"datum":10,"axis":null}}}
  ]},
 {"width":85,"height":400,"resolve":{"axis":{"x":"independent","y":"independent"}},
  "layer":[
   {"data":{"name":"pts"},"transform":[{"filter":{"and":[{"field":"p","equal":"R"},{"field":"el","oneOf":["N","O"]}]}}],"mark":{"type":"line","stroke":"black","strokeWidth":1,"strokeDash":[3,2]},
    "encoding":{"x":{"field":"A","type":"quantitative","scale":{"domain":[12.63,23.96],"nice":false,"zero":false},"axis":{"orient":"bottom","values":[15,20],"labelPadding":11,"title":null}},
     "y":{"field":"E","type":"quantitative","scale":{"domain":[10,100],"nice":false,"zero":false},"axis":null},"detail":{"field":"el"}}},
   {"data":{"name":"fr"},"transform":[{"filter":{"field":"s","equal":3}}],"mark":{"type":"line","color":"black","strokeWidth":1},
    "encoding":{"x":{"field":"A","type":"quantitative","axis":null},"y":{"field":"E","type":"quantitative","axis":null},"detail":{"field":"k"}}},
   {"data":{"name":"pts"},"transform":[{"filter":{"and":[{"field":"p","equal":"R"},{"field":"el","oneOf":["N","O"]},{"field":"g","equal":"gerade Z"}]}}],"mark":{"type":"point","shape":"circle","filled":false,"color":"black","strokeWidth":1,"size":40},
    "encoding":{"x":{"field":"A","type":"quantitative","axis":null},"y":{"field":"E","type":"quantitative","axis":null}}},
   {"data":{"name":"pts"},"transform":[{"filter":{"and":[{"field":"p","equal":"R"},{"field":"el","oneOf":["N","O"]},{"field":"g","equal":"ungerade Z"}]}}],"mark":{"type":"point","shape":"circle","filled":true,"color":"black","size":42},
    "encoding":{"x":{"field":"A","type":"quantitative","axis":null},"y":{"field":"E","type":"quantitative","axis":null}}},
   {"data":{"name":"lbl"},"transform":[{"filter":{"and":[{"field":"p","equal":"R"},{"field":"t","oneOf":["N","O"]}]}}],"mark":{"type":"text","fontSize":20,"align":"center","baseline":"middle"},
    "encoding":{"x":{"field":"A","type":"quantitative","axis":null},"y":{"field":"E","type":"quantitative","axis":null},"text":{"field":"t"}}},
   {"data":{"values":[{}]},"mark":{"type":"text","text":"//","fontSize":16,"align":"center","baseline":"middle","dy":-4},"encoding":{"x":{"datum":23.6,"axis":null},"y":{"datum":10,"axis":null}}}
  ]},
 {"width":80,"height":400,"resolve":{"axis":{"x":"independent","y":"independent"}},
  "layer":[
   {"data":{"name":"pts"},"transform":[{"filter":{"and":[{"field":"p","equal":"R"},{"field":"el","oneOf":["F","Ne"]}]}}],"mark":{"type":"line","stroke":"black","strokeWidth":1,"strokeDash":[3,2]},
    "encoding":{"x":{"field":"A","type":"quantitative","scale":{"domain":[17.97,28.64],"nice":false,"zero":false},"axis":{"orient":"bottom","values":[20,25],"labelPadding":11,"title":null}},
     "y":{"field":"E","type":"quantitative","scale":{"domain":[10,100],"nice":false,"zero":false},"axis":null},"detail":{"field":"el"}}},
   {"data":{"name":"fr"},"transform":[{"filter":{"field":"s","equal":4}}],"mark":{"type":"line","color":"black","strokeWidth":1},
    "encoding":{"x":{"field":"A","type":"quantitative","axis":null},"y":{"field":"E","type":"quantitative","axis":null},"detail":{"field":"k"}}},
   {"data":{"name":"pts"},"transform":[{"filter":{"and":[{"field":"p","equal":"R"},{"field":"el","oneOf":["F","Ne"]},{"field":"g","equal":"gerade Z"}]}}],"mark":{"type":"point","shape":"circle","filled":false,"color":"black","strokeWidth":1,"size":40},
    "encoding":{"x":{"field":"A","type":"quantitative","axis":null},"y":{"field":"E","type":"quantitative","axis":null}}},
   {"data":{"name":"pts"},"transform":[{"filter":{"and":[{"field":"p","equal":"R"},{"field":"el","oneOf":["F","Ne"]},{"field":"g","equal":"ungerade Z"}]}}],"mark":{"type":"point","shape":"circle","filled":true,"color":"black","size":42},
    "encoding":{"x":{"field":"A","type":"quantitative","axis":null},"y":{"field":"E","type":"quantitative","axis":null}}},
   {"data":{"name":"lbl"},"transform":[{"filter":{"and":[{"field":"p","equal":"R"},{"field":"t","oneOf":["F","Ne"]}]}}],"mark":{"type":"text","fontSize":20,"align":"center","baseline":"middle"},
    "encoding":{"x":{"field":"A","type":"quantitative","axis":null},"y":{"field":"E","type":"quantitative","axis":null},"text":{"field":"t"}}},
   {"data":{"values":[{}]},"mark":{"type":"text","text":"//","fontSize":16,"align":"center","baseline":"middle","dy":-4},"encoding":{"x":{"datum":28.64,"axis":null},"y":{"datum":10,"axis":null}}}
  ]},
 {"width":87,"height":400,"resolve":{"axis":{"x":"independent","y":"independent"}},
  "layer":[
   {"data":{"name":"pts"},"transform":[{"filter":{"and":[{"field":"p","equal":"R"},{"field":"el","oneOf":["Na","Mg"]}]}}],"mark":{"type":"line","stroke":"black","strokeWidth":1,"strokeDash":[3,2]},
    "encoding":{"x":{"field":"A","type":"quantitative","scale":{"domain":[21.76,37.16],"nice":false,"zero":false},"axis":{"orient":"bottom","values":[25,30,35],"labelPadding":11,"title":null}},
     "y":{"field":"E","type":"quantitative","scale":{"domain":[10,100],"nice":false,"zero":false},"axis":null},"detail":{"field":"el"}}},
   {"data":{"name":"fr"},"transform":[{"filter":{"field":"s","equal":5}}],"mark":{"type":"line","color":"black","strokeWidth":1},
    "encoding":{"x":{"field":"A","type":"quantitative","axis":null},"y":{"field":"E","type":"quantitative","axis":null},"detail":{"field":"k"}}},
   {"data":{"name":"pts"},"transform":[{"filter":{"and":[{"field":"p","equal":"R"},{"field":"el","oneOf":["Na","Mg"]},{"field":"g","equal":"gerade Z"}]}}],"mark":{"type":"point","shape":"circle","filled":false,"color":"black","strokeWidth":1,"size":40},
    "encoding":{"x":{"field":"A","type":"quantitative","axis":null},"y":{"field":"E","type":"quantitative","axis":null}}},
   {"data":{"name":"pts"},"transform":[{"filter":{"and":[{"field":"p","equal":"R"},{"field":"el","oneOf":["Na","Mg"]},{"field":"g","equal":"ungerade Z"}]}}],"mark":{"type":"point","shape":"circle","filled":true,"color":"black","size":42},
    "encoding":{"x":{"field":"A","type":"quantitative","axis":null},"y":{"field":"E","type":"quantitative","axis":null}}},
   {"data":{"name":"lbl"},"transform":[{"filter":{"and":[{"field":"p","equal":"R"},{"field":"t","oneOf":["Na","Mg","Al"]}]}}],"mark":{"type":"text","fontSize":20,"align":"center","baseline":"middle"},
    "encoding":{"x":{"field":"A","type":"quantitative","axis":null},"y":{"field":"E","type":"quantitative","axis":null},"text":{"field":"t"}}},
   {"data":{"values":[{}]},"mark":{"type":"text","text":"//","fontSize":16,"align":"center","baseline":"middle","dy":-4},"encoding":{"x":{"datum":37.16,"axis":null},"y":{"datum":10,"axis":null}}},
   {"data":{"name":"lg"},"transform":[{"filter":{"field":"p","equal":"R"}}],"mark":{"type":"line","color":"black","strokeWidth":1,"strokeDash":[3,2]},
    "encoding":{"x":{"field":"A","type":"quantitative","axis":null},"y":{"field":"E","type":"quantitative","axis":null},"detail":{"field":"k"}}},
   {"data":{"name":"lg"},"transform":[{"filter":{"and":[{"field":"p","equal":"R"},{"field":"k","equal":"o"}]}}],"mark":{"type":"point","shape":"circle","filled":true,"fill":"white","stroke":"black","strokeWidth":1,"size":25},
    "encoding":{"x":{"field":"A","type":"quantitative","axis":null},"y":{"field":"E","type":"quantitative","axis":null}}},
   {"data":{"name":"lg"},"transform":[{"filter":{"and":[{"field":"p","equal":"R"},{"field":"k","equal":"f"}]}}],"mark":{"type":"point","shape":"circle","filled":true,"color":"black","size":25},
    "encoding":{"x":{"field":"A","type":"quantitative","axis":null},"y":{"field":"E","type":"quantitative","axis":null}}}
  ]},
 {"width":77,"height":400,"resolve":{"axis":{"x":"independent","y":"independent"}},
  "layer":[
   {"data":{"name":"pts"},"transform":[{"filter":{"and":[{"field":"p","equal":"R"},{"field":"el","oneOf":["Al","Si"]}]}}],"mark":{"type":"line","stroke":"black","strokeWidth":1,"strokeDash":[3,2]},
    "encoding":{"x":{"field":"A","type":"quantitative","scale":{"domain":[26.21,38.36],"nice":false,"zero":false},"axis":{"orient":"bottom","values":[30,35],"labelPadding":11,"title":null}},
     "y":{"field":"E","type":"quantitative","scale":{"domain":[10,100],"nice":false,"zero":false},"axis":null},"detail":{"field":"el"}}},
   {"data":{"name":"fr"},"transform":[{"filter":{"field":"s","equal":6}}],"mark":{"type":"line","color":"black","strokeWidth":1},
    "encoding":{"x":{"field":"A","type":"quantitative","axis":null},"y":{"field":"E","type":"quantitative","axis":null},"detail":{"field":"k"}}},
   {"data":{"name":"pts"},"transform":[{"filter":{"and":[{"field":"p","equal":"R"},{"field":"el","oneOf":["Al","Si"]},{"field":"g","equal":"gerade Z"}]}}],"mark":{"type":"point","shape":"circle","filled":false,"color":"black","strokeWidth":1,"size":40},
    "encoding":{"x":{"field":"A","type":"quantitative","axis":null},"y":{"field":"E","type":"quantitative","axis":null}}},
   {"data":{"name":"pts"},"transform":[{"filter":{"and":[{"field":"p","equal":"R"},{"field":"el","oneOf":["Al","Si"]},{"field":"g","equal":"ungerade Z"}]}}],"mark":{"type":"point","shape":"circle","filled":true,"color":"black","size":42},
    "encoding":{"x":{"field":"A","type":"quantitative","axis":null},"y":{"field":"E","type":"quantitative","axis":null}}},
   {"data":{"name":"lbl"},"transform":[{"filter":{"and":[{"field":"p","equal":"R"},{"field":"t","oneOf":["Si"]}]}}],"mark":{"type":"text","fontSize":20,"align":"center","baseline":"middle"},
    "encoding":{"x":{"field":"A","type":"quantitative","axis":null},"y":{"field":"E","type":"quantitative","axis":null},"text":{"field":"t"}}},
   {"data":{"values":[{}]},"mark":{"type":"text","text":"TP vom HF","fontSize":20,"align":"right","baseline":"middle"},"encoding":{"x":{"datum":36.47,"axis":null},"y":{"datum":27.1,"axis":null}}},
   {"data":{"values":[{}]},"mark":{"type":"text","text":"gerade Z","fontSize":20,"align":"right","baseline":"middle"},"encoding":{"x":{"datum":35.57,"axis":null},"y":{"datum":22.0,"axis":null}}},
   {"data":{"values":[{}]},"mark":{"type":"text","text":"ungerade Z","fontSize":20,"align":"right","baseline":"middle"},"encoding":{"x":{"datum":35.95,"axis":null},"y":{"datum":17.0,"axis":null}}}
  ]}
 ]}
]
}
